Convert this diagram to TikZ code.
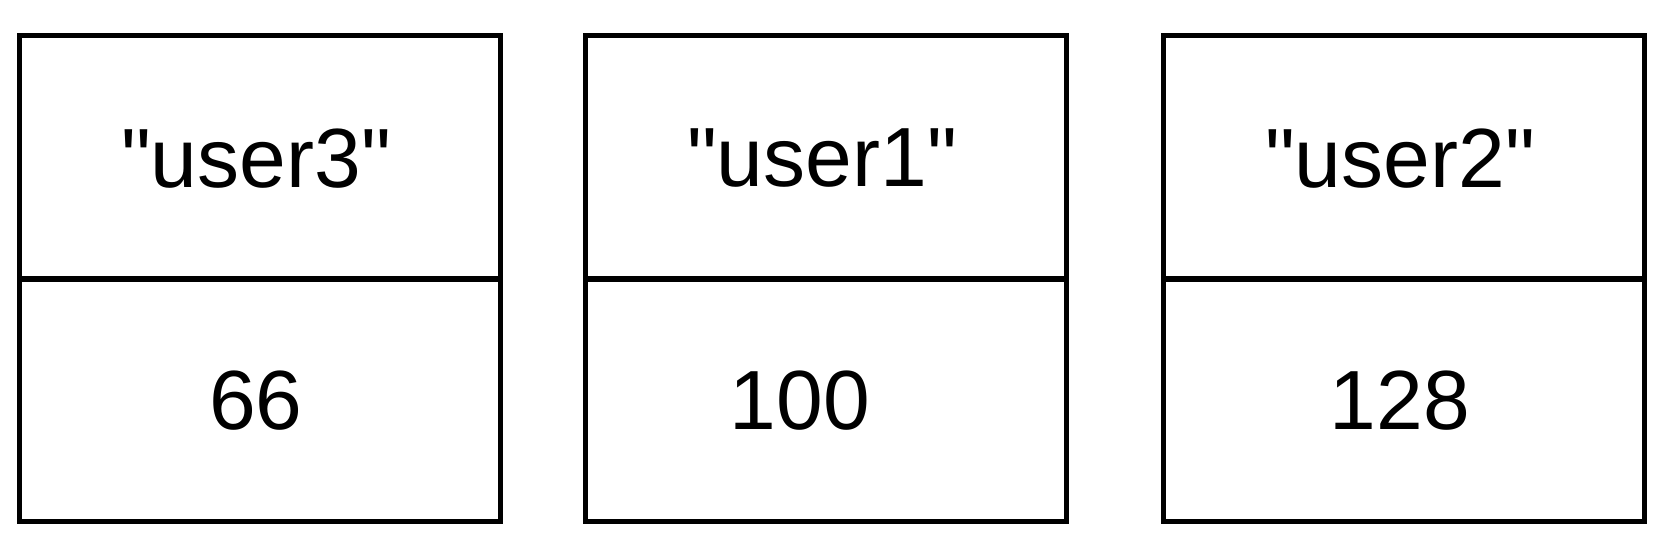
\documentclass[tikz,border=0pt]{standalone}
\usepackage{fontspec}
\setmainfont{Liberation Sans}[Ligatures=TeXOff]
\begin{document}
\begin{tikzpicture}[x=1pt,y=-1pt,
  cell/.style={draw=black, line width=5pt, minimum width=481pt, minimum height=243pt,
    inner sep=0pt, anchor=center},
  lab/.style={inner sep=0pt, anchor=center, font=\fontsize{84}{96}\selectfont}]
\useasboundingbox (0,0) rectangle (1668,540);
\node[cell] (k1) at (260,157.5) {};
\node[cell] (v1) at (260,400) {};
\node[cell] (k2) at (826,157.5) {};
\node[cell] (v2) at (826,400) {};
\node[cell] (k3) at (1404,157.5) {};
\node[cell] (v3) at (1404,400) {};
\node[lab] (tk1) at ([xshift=-4pt,yshift=-1pt]k1.center) {"user3"};
\node[lab] (tv1) at ([xshift=-4pt,yshift=-1pt]v1.center) {66};
\node[lab] (tk2) at ([xshift=-4pt,yshift=-1pt]k2.center) {"user1"};
\node[lab] (tv2) at ([xshift=-26pt,yshift=-1pt]v2.center) {100};
\node[lab] (tk3) at ([xshift=-4pt,yshift=-1pt]k3.center) {"user2"};
\node[lab] (tv3) at ([xshift=-4pt,yshift=-1pt]v3.center) {128};
\end{tikzpicture}
\end{document}
